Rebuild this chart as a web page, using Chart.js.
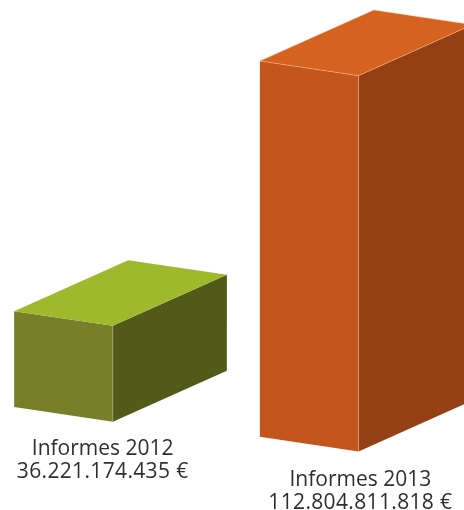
<!DOCTYPE html>
<html>
<head>
<meta charset="utf-8">
<style>
  html, body { margin: 0; padding: 0; background: #fff; }
  canvas { display: block; }
</style>
<script src="https://cdn.jsdelivr.net/npm/chart.js@4"></script>
</head>
<body>
<canvas id="chart" width="464" height="510"></canvas>
<script>
const categories = ['Informes 2012', 'Informes 2013'];
const amounts = [36221174435, 112804811818];
const frontColors = ['#778028', '#c2561c'];
const sideColors = ['#525a18', '#953f14'];
const topColors = ['#a0b82c', '#d5621f'];
const edgeColors = ['rgba(225,225,190,0.45)', 'rgba(255,205,170,0.6)'];

const formatEuro = v => String(v).replace(/\B(?=(\d{3})+$)/g, '.') + ' €';

function fillFace(ctx, pts, fill) {
  ctx.beginPath();
  pts.forEach((p, i) => i ? ctx.lineTo(p[0], p[1]) : ctx.moveTo(p[0], p[1]));
  ctx.closePath();
  ctx.fillStyle = fill;
  ctx.fill();
}

function strokeEdge(ctx, a, b, color) {
  ctx.beginPath();
  ctx.moveTo(a[0], a[1]);
  ctx.lineTo(b[0], b[1]);
  ctx.strokeStyle = color;
  ctx.lineWidth = 0.7;
  ctx.stroke();
}

// Draws each bar as an oblique box, then its caption underneath.
const boxBars = {
  id: 'boxBars',
  beforeDatasetDraw(chart, args, opts) {
    const ctx = chart.ctx;
    const bars = chart.getDatasetMeta(args.index).data;
    const floor = chart.scales.y.bottom;
    ctx.save();
    bars.forEach((bar, i) => {
      const left = bar.x - bar.width / 2;
      const right = bar.x + bar.width / 2;
      const drop = opts.drop[i];
      const top = bar.y + drop;
      const base = floor + drop;
      const tl = [left, top];
      const tr = [right, top + opts.skew];
      const br = [right, base + opts.skew];
      const bl = [left, base];
      const back = p => [p[0] + opts.depthX, p[1] + opts.depthY];

      fillFace(ctx, [tl, tr, br, bl], frontColors[i]);
      fillFace(ctx, [tr, back(tr), back(br), br], sideColors[i]);
      fillFace(ctx, [tl, back(tl), back(tr), tr], topColors[i]);
      strokeEdge(ctx, tr, br, edgeColors[i]);
      if (i === 1) {
        strokeEdge(ctx, tl, tr, edgeColors[i]);
        strokeEdge(ctx, tr, back(tr), edgeColors[i]);
        strokeEdge(ctx, tl, back(tl), edgeColors[i]);
        strokeEdge(ctx, back(tl), back(tr), edgeColors[i]);
      }

      const cx = left + opts.captionX[i];
      const line1 = base + opts.captionY[i];
      ctx.fillStyle = '#2f2f31';
      ctx.font = opts.font;
      ctx.textAlign = 'center';
      ctx.textBaseline = 'alphabetic';
      ctx.fillText(categories[i], cx, line1);
      ctx.letterSpacing = opts.amountSpacing;
      ctx.fillText(formatEuro(amounts[i]), cx, line1 + opts.lineGap);
      ctx.letterSpacing = '0px';
    });
    ctx.restore();
    return false;
  }
};

new Chart(document.getElementById('chart'), {
  type: 'bar',
  data: {
    labels: categories,
    datasets: [{
      data: amounts,
      backgroundColor: frontColors,
      barThickness: 98.7,
      clip: false
    }]
  },
  options: {
    responsive: false,
    animation: false,
    layout: { padding: { left: 63.5, right: 154.8, top: 5, bottom: 103 } },
    scales: {
      x: { display: false, offset: false },
      y: { display: false, min: 10000000000, max: 120000000000 }
    },
    plugins: {
      legend: { display: false },
      tooltip: { enabled: false },
      boxBars: {
        skew: 14.7,
        depthX: 114,
        depthY: -51,
        drop: [0, 29.7],
        captionX: [88.5, 100.5],
        captionY: [48, 49.3],
        lineGap: 23,
        amountSpacing: '0.35px',
        font: '21px "Open Sans"'
      }
    }
  },
  plugins: [boxBars]
});
</script>
</body>
</html>
